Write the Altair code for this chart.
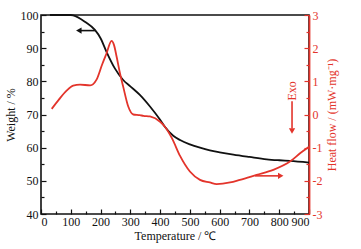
import altair as alt
import pandas as pd

# ---- data ----
temp_w = [30, 60, 100, 108, 150, 181, 200, 220, 248, 276, 300, 332, 366, 400, 416,
          444, 467, 500, 534, 567, 600, 646, 700, 758, 800, 836, 900]
weight = [100, 100, 100, 99.9, 97.8, 95.5, 93.0, 88.9, 83.9, 80.4, 78.5, 75.9, 72.4, 68.4, 66.3,
          63.6, 62.3, 61.0, 60.0, 59.2, 58.6, 57.9, 57.2, 56.5, 56.2, 56.0, 55.5]

temp_h = [36, 60, 86, 108, 131, 165, 187, 205, 220, 237, 245, 254, 265, 276, 293, 310,
          332, 344, 366, 400, 416, 440, 467, 500, 534, 567, 590, 635, 668, 724, 780,
          836, 870, 900]
heat = [0.17, 0.45, 0.72, 0.87, 0.90, 0.88, 1.06, 1.50, 1.84, 2.22, 2.10, 1.74, 1.25,
        0.84, 0.24, 0.00, -0.02, -0.04, -0.06, -0.22, -0.37, -0.72, -1.25, -1.72,
        -1.97, -2.05, -2.10, -2.05, -1.97, -1.82, -1.67, -1.42, -1.17, -0.97]

x_major = list(range(0, 901, 100))
x_minor = list(range(50, 900, 100))
w_major = list(range(40, 101, 10))
w_minor = list(range(45, 100, 10))
h_major = [-3, -2, -1, 0, 1, 2, 3]
h_minor = [-2.5, -1.5, -0.5, 0.5, 1.5, 2.5]

# annotation arrows (data units)
w_arrow_T = [130, 181]
w_arrow_W = 95.3
w_head_T = 127
h_arrow_T = [719, 800]
h_arrow_H = -1.85
h_head_T = 805
exo_T = 843
exo_H = [0.40, -0.42]
exo_head_H = -0.50
exo_text_H = 0.71

RED = "#e3342b"
BLACK = "#111111"
FONT = "Liberation Serif"

xs = alt.Scale(domain=[0, 900], nice=False, zero=False)
ws = alt.Scale(domain=[40, 100], nice=False, zero=False)
hs = alt.Scale(domain=[-3, 3], nice=False, zero=False)

neg_expr = "datum.value < 0 ? '-' + abs(datum.value) : '' + datum.value"

df_w = pd.DataFrame({"T": temp_w, "W": weight})
df_h = pd.DataFrame({"T": temp_h, "H": heat})

weight_line = alt.Chart(df_w).mark_line(color=BLACK, strokeWidth=1.8, interpolate="monotone").encode(
    x=alt.X("T:Q", scale=xs, axis=alt.Axis(orient="bottom", values=x_major, tickSize=5, offset=-5,
                                           domain=False, labelPadding=2, titlePadding=3,
                                           title="Temperature / ℃", tickColor=BLACK, format="d")),
    y=alt.Y("W:Q", scale=ws, axis=alt.Axis(orient="left", values=w_major, tickSize=5, offset=-5,
                                           domain=False, labelPadding=3, titlePadding=3,
                                           title="Weight / %", tickColor=BLACK, format="d")),
)

heat_line = alt.Chart(df_h).mark_line(color=RED, strokeWidth=1.8, interpolate="monotone").encode(
    x=alt.X("T:Q", scale=xs, axis=alt.Axis(orient="bottom", values=x_minor, tickSize=3, offset=-3,
                                           domain=False, labels=False, title=None, tickColor=BLACK)),
    y=alt.Y("H:Q", scale=hs, axis=alt.Axis(orient="right", values=h_major, tickSize=5, offset=-5,
                                           domain=False, labelPadding=3, titlePadding=5,
                                           title="Heat flow / (mW·mg⁻¹)", titleAngle=270,
                                           titleBaseline="top",
                                           tickColor=RED, labelColor=RED, titleColor=RED,
                                           labelExpr=neg_expr)),
)

df_wa = pd.DataFrame({"T1": [w_arrow_T[0]], "T2": [w_arrow_T[1]], "W": [w_arrow_W]})
w_arrow = alt.Chart(df_wa).mark_rule(color=BLACK, strokeWidth=1.6).encode(
    x=alt.X("T1:Q", scale=xs, axis=None),
    x2="T2:Q",
    y=alt.Y("W:Q", scale=ws, axis=alt.Axis(orient="left", values=w_minor, tickSize=3, offset=-3,
                                           domain=False, labels=False, title=None, tickColor=BLACK)),
)
df_wh = pd.DataFrame({"T": [w_head_T], "W": [w_arrow_W]})
w_head = alt.Chart(df_wh).mark_point(shape="triangle-left", filled=True, color=BLACK, size=40, opacity=1).encode(
    x=alt.X("T:Q", scale=xs, axis=None),
    y=alt.Y("W:Q", scale=ws, axis=None),
)

df_ha = pd.DataFrame({"T1": [h_arrow_T[0]], "T2": [h_arrow_T[1]], "H": [h_arrow_H]})
h_arrow = alt.Chart(df_ha).mark_rule(color=RED, strokeWidth=1.6).encode(
    x=alt.X("T1:Q", scale=xs, axis=None),
    x2="T2:Q",
    y=alt.Y("H:Q", scale=hs, axis=alt.Axis(orient="right", values=h_minor, tickSize=3, offset=-3,
                                           domain=False, labels=False, title=None, tickColor=RED)),
)
df_hh = pd.DataFrame({"T": [h_head_T], "H": [h_arrow_H]})
h_head = alt.Chart(df_hh).mark_point(shape="triangle-right", filled=True, color=RED, size=40, opacity=1).encode(
    x=alt.X("T:Q", scale=xs, axis=None),
    y=alt.Y("H:Q", scale=hs, axis=None),
)

df_ea = pd.DataFrame({"T": [exo_T], "H1": [exo_H[0]], "H2": [exo_H[1]]})
exo_arrow = alt.Chart(df_ea).mark_rule(color=RED, strokeWidth=1.6).encode(
    x=alt.X("T:Q", scale=xs, axis=None),
    y=alt.Y("H1:Q", scale=hs, axis=alt.Axis(orient="right", ticks=False, labels=False, title=None,
                                            domain=True, domainColor=RED, domainWidth=1.8)),
    y2="H2:Q",
)
df_eh = pd.DataFrame({"T": [exo_T], "H": [exo_head_H]})
exo_head = alt.Chart(df_eh).mark_point(shape="triangle-down", filled=True, color=RED, size=40, opacity=1).encode(
    x=alt.X("T:Q", scale=xs, axis=None),
    y=alt.Y("H:Q", scale=hs, axis=None),
)
df_et = pd.DataFrame({"T": [exo_T], "H": [exo_text_H], "label": ["Exo"]})
exo_text = alt.Chart(df_et).mark_text(color=RED, font=FONT, fontSize=12, angle=270,
                                      align="center", baseline="middle").encode(
    x=alt.X("T:Q", scale=xs, axis=None),
    y=alt.Y("H:Q", scale=hs, axis=None),
    text="label:N",
)

chart = alt.layer(
    weight_line, heat_line, w_arrow, w_head, h_arrow, h_head, exo_arrow, exo_head, exo_text
).resolve_scale(
    x="independent", y="independent"
).resolve_axis(
    x="independent", y="independent"
).properties(
    width=268, height=199,
    padding={"left": 41, "top": 15, "right": 52, "bottom": 35},
    autosize=alt.AutoSizeParams(type="none"),
    background="white",
).configure_view(
    stroke=BLACK, strokeWidth=1.6
).configure_axis(
    labelFont=FONT, titleFont=FONT, labelFontSize=12, titleFontSize=12,
    titleFontWeight="normal", grid=False, labelColor=BLACK, titleColor=BLACK,
    tickWidth=1.2,
)

chart.save("out.html", embed_options={"renderer": "svg", "actions": False})
